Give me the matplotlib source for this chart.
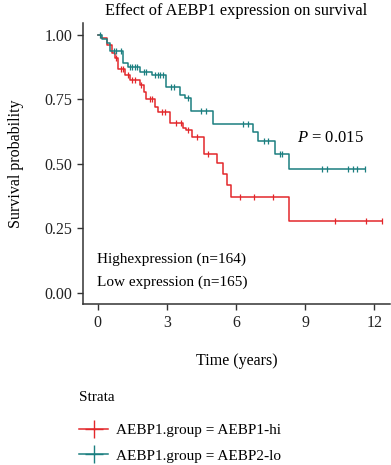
import matplotlib.pyplot as plt
import numpy as np
from matplotlib.lines import Line2D

plt.rcParams['font.family'] = ['Liberation Serif', 'DejaVu Serif']
plt.rcParams['mathtext.fontset'] = 'custom'
plt.rcParams['mathtext.it'] = 'Liberation Serif:italic'
plt.rcParams['mathtext.rm'] = 'Liberation Serif'

# step curves: event times and survival after each step
hi_times = [0.0, 0.15, 0.4, 0.6, 0.75, 0.9, 1.2, 1.4, 1.85, 2.0, 2.1, 2.5, 2.6,
            3.15, 3.72, 3.85, 4.1, 4.6, 5.19, 5.43, 5.6, 5.78, 8.31, 12.32]
hi_surv = [1.0, 0.99, 0.96, 0.93, 0.91, 0.87, 0.845, 0.826, 0.806, 0.78, 0.752,
           0.72, 0.70, 0.66, 0.638, 0.63, 0.606, 0.54, 0.503, 0.461, 0.419,
           0.371, 0.279, 0.279]
hi_censor = [0.8, 1.0, 1.1, 1.3, 1.5, 1.6, 1.9, 2.25, 2.35, 2.8, 2.9, 3.4, 3.6,
             3.9, 4.3, 4.8, 6.17, 6.78, 7.62, 10.3, 11.64, 12.32]

lo_times = [0.0, 0.2, 0.4, 0.55, 1.1, 1.3, 1.85, 2.35, 2.95, 3.57, 3.8, 4.05,
            5.0, 6.75, 6.97, 7.7, 8.31, 11.6]
lo_surv = [1.0, 0.985, 0.97, 0.94, 0.89, 0.877, 0.857, 0.845, 0.80, 0.767,
           0.755, 0.707, 0.655, 0.625, 0.59, 0.54, 0.48, 0.48]
lo_censor = [0.1, 0.7, 0.8, 1.0, 1.4, 1.5, 1.6, 1.7, 2.0, 2.1, 2.5, 2.6, 2.7,
             2.85, 3.2, 3.3, 3.9, 4.5, 4.7, 6.3, 6.5, 7.2, 7.4, 7.9, 8.0,
             9.72, 9.93, 10.87, 11.06, 11.26, 11.6]

groups = ['AEBP1.group = AEBP1-hi', 'AEBP1.group = AEBP2-lo']
colors = ['#E3272B', '#1B7F80']

fig = plt.figure(figsize=(3.91, 4.65), dpi=100)
ax = fig.add_axes([0.2115, 0.3456, 0.787, 0.605])

for times, surv, cens, col in [(hi_times, hi_surv, hi_censor, colors[0]),
                               (lo_times, lo_surv, lo_censor, colors[1])]:
    ax.step(times, surv, where='post', color=col, lw=1.1)
    idx = np.searchsorted(times, cens, side='right') - 1
    ax.plot(cens, np.array(surv)[idx], ls='none', marker='|', ms=4,
            mew=0.9, color=col)

ax.set_xlim(-0.65, 12.7)
ax.set_ylim(-0.045, 1.047)
ax.set_xticks([0, 3, 6, 9, 12])
ax.set_yticks([0, 0.25, 0.5, 0.75, 1.0])
ax.set_yticklabels(['0.00', '0.25', '0.50', '0.75', '1.00'])
for s in ['top', 'right']:
    ax.spines[s].set_visible(False)
for s in ['left', 'bottom']:
    ax.spines[s].set_color('#333333')
    ax.spines[s].set_linewidth(1.1)
ax.tick_params(colors='#333333', labelcolor='#222222', labelsize=11.5,
               length=4, width=1.0)

ax.set_title('Effect of AEBP1 expression on survival', fontsize=11.8, pad=6)
ax.set_xlabel('Time (years)', fontsize=11.5, labelpad=16)
ax.set_ylabel('Survival probability', fontsize=11.5, labelpad=15)

ax.text(8.65, 0.60, r'$P$ = 0.015', fontsize=12, va='center')
ax.text(-0.05, 0.128, 'Highexpression (n=164)', fontsize=11, va='center')
ax.text(-0.05, 0.04, 'Low expression (n=165)', fontsize=11, va='center')

handles = [Line2D([], [], color=c, marker='+', ms=13, lw=1.1, mew=1.0)
           for c in colors]
leg = fig.legend(handles, groups, loc='upper left',
                 bbox_to_anchor=(0.167, 0.188), frameon=False,
                 title='Strata', fontsize=11, title_fontsize=11,
                 handlelength=1.9, handletextpad=0.5, labelspacing=0.75,
                 alignment='left')
leg._legend_box.sep = 14

fig.savefig('out.png', dpi=100)
